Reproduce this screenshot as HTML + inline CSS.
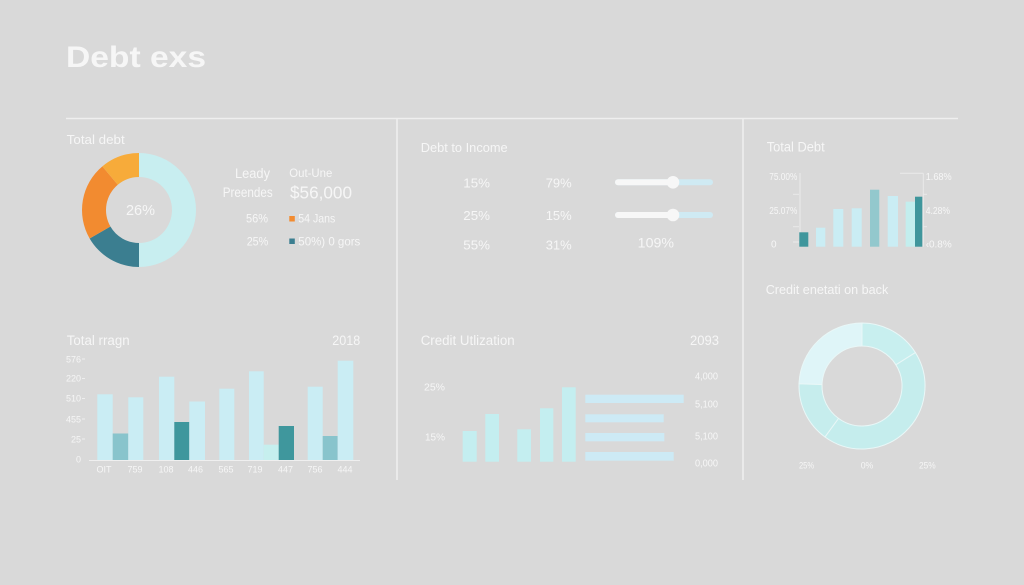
<!DOCTYPE html>
<html><head><meta charset="utf-8"><style>
html,body{margin:0;padding:0;background:#d9d9d9;}
svg{display:block;}
text{font-family:"Liberation Sans",sans-serif;fill:#f6f6f6;}
</style></head><body>
<svg width="1024" height="585" viewBox="0 0 1024 585" xmlns="http://www.w3.org/2000/svg">
<rect width="1024" height="585" fill="#d9d9d9"/>

<!-- Title -->
<text x="66" y="67" font-size="30" font-weight="bold" textLength="140" lengthAdjust="spacingAndGlyphs" fill="#f5f5f5">Debt exs</text>

<!-- grid lines -->
<line x1="66" y1="118.5" x2="958" y2="118.5" stroke="#efefef" stroke-width="1.5"/>
<line x1="397" y1="118" x2="397" y2="480" stroke="#efefef" stroke-width="1.5"/>
<line x1="743" y1="118" x2="743" y2="480" stroke="#efefef" stroke-width="1.5"/>

<!-- Panel 1: Total debt donut -->
<text x="66.7" y="144" font-size="13" textLength="58" lengthAdjust="spacingAndGlyphs">Total debt</text>
<path d="M139,153 A57,57 0 0 1 139,267 L139,243 A33,33 0 0 0 139,177 Z" fill="#c8eef0"/>
<path d="M139,267 A57,57 0 0 1 89.64,238.5 L110.42,226.5 A33,33 0 0 0 139,243 Z" fill="#3b7e90"/>
<path d="M89.64,238.5 A57,57 0 0 1 102.36,166.34 L117.79,184.72 A33,33 0 0 0 110.42,226.5 Z" fill="#f28b30"/>
<path d="M102.36,166.34 A57,57 0 0 1 139,153 L139,177 A33,33 0 0 0 117.79,184.72 Z" fill="#f7ab3a"/>
<text x="126" y="215" font-size="15" textLength="29" lengthAdjust="spacingAndGlyphs">26%</text>

<text x="235" y="178" font-size="13.5" textLength="35" lengthAdjust="spacingAndGlyphs">Leady</text>
<text x="222.7" y="197" font-size="13.5" textLength="50" lengthAdjust="spacingAndGlyphs">Preendes</text>
<text x="289.3" y="177" font-size="12" textLength="43" lengthAdjust="spacingAndGlyphs">Out-Une</text>
<text x="290" y="198.5" font-size="17.5" textLength="62" lengthAdjust="spacingAndGlyphs">$56,000</text>
<text x="246" y="222.5" font-size="12" textLength="22" lengthAdjust="spacingAndGlyphs">56%</text>
<rect x="289.3" y="216" width="5.5" height="5.5" fill="#f28b30"/>
<text x="298.3" y="222.5" font-size="12" textLength="37" lengthAdjust="spacingAndGlyphs">54 Jans</text>
<text x="246.7" y="245.5" font-size="12" textLength="21.6" lengthAdjust="spacingAndGlyphs">25%</text>
<rect x="289.3" y="238.5" width="5.5" height="5.5" fill="#3b7e90"/>
<text x="298.3" y="245.5" font-size="12" textLength="62" lengthAdjust="spacingAndGlyphs">50%) 0 gors</text>

<!-- Panel 3: Total rragn bars -->
<text x="66.7" y="345" font-size="13.5" textLength="63" lengthAdjust="spacingAndGlyphs">Total rragn</text>
<text x="332.3" y="345" font-size="13.5" textLength="28" lengthAdjust="spacingAndGlyphs">2018</text>
<g font-size="9" text-anchor="end">
<text x="81" y="362.5">576</text>
<text x="81" y="381.7">220</text>
<text x="81" y="401.7">510</text>
<text x="81" y="422.3">455</text>
<text x="81" y="442.3">25</text>
<text x="81" y="462.7">0</text>
</g>
<g stroke="#eeeeee" stroke-width="1">
<line x1="82" y1="359" x2="85" y2="359"/>
<line x1="82" y1="378.5" x2="85" y2="378.5"/>
<line x1="82" y1="398.5" x2="85" y2="398.5"/>
<line x1="82" y1="419" x2="85" y2="419"/>
<line x1="82" y1="439" x2="85" y2="439"/>
</g>
<rect x="97.3" y="394.3" width="15.4" height="65.7" fill="#caedf4"/>
<rect x="112.7" y="433.5" width="15.6" height="26.5" fill="#88c4cc"/>
<rect x="128.3" y="397.3" width="15" height="62.7" fill="#caedf4"/>
<rect x="159" y="376.7" width="15.3" height="83.3" fill="#caedf4"/>
<rect x="174.3" y="422" width="15" height="38" fill="#3f979d"/>
<rect x="189.3" y="401.5" width="15.7" height="58.5" fill="#caedf4"/>
<rect x="219.3" y="388.7" width="15" height="71.3" fill="#caedf4"/>
<rect x="249" y="371.3" width="14.7" height="88.7" fill="#caedf4"/>
<rect x="263.7" y="444.7" width="15" height="15.3" fill="#c6efee"/>
<rect x="278.7" y="426" width="15.3" height="34" fill="#3f979d"/>
<rect x="307.7" y="386.7" width="15" height="73.3" fill="#caedf4"/>
<rect x="322.7" y="436" width="15" height="24" fill="#88c4cc"/>
<rect x="337.7" y="360.7" width="15.6" height="99.3" fill="#caedf4"/>
<line x1="89" y1="460.5" x2="360" y2="460.5" stroke="#efefef" stroke-width="1"/>
<g font-size="9" text-anchor="middle">
<text x="104" y="472.7">OIT</text>
<text x="135" y="472.7">759</text>
<text x="166" y="472.7">108</text>
<text x="195.5" y="472.7">446</text>
<text x="226" y="472.7">565</text>
<text x="255" y="472.7">719</text>
<text x="285.5" y="472.7">447</text>
<text x="315" y="472.7">756</text>
<text x="345" y="472.7">444</text>
</g>

<!-- Panel 2: Debt to Income -->
<text x="420.7" y="152" font-size="13" textLength="87" lengthAdjust="spacingAndGlyphs">Debt to Income</text>
<g font-size="13">
<text x="463.3" y="187.7" textLength="26.7" lengthAdjust="spacingAndGlyphs">15%</text>
<text x="545.7" y="187.7" textLength="26" lengthAdjust="spacingAndGlyphs">79%</text>
<text x="463.3" y="220" textLength="26.7" lengthAdjust="spacingAndGlyphs">25%</text>
<text x="545.7" y="220" textLength="26" lengthAdjust="spacingAndGlyphs">15%</text>
<text x="463.3" y="249.3" textLength="26.7" lengthAdjust="spacingAndGlyphs">55%</text>
<text x="545.7" y="249.3" textLength="26" lengthAdjust="spacingAndGlyphs">31%</text>
</g>
<text x="637.7" y="247.7" font-size="14" textLength="36.3" lengthAdjust="spacingAndGlyphs">109%</text>
<rect x="615" y="179.3" width="98" height="6" rx="3" fill="#cfeaf3"/>
<rect x="615" y="179.3" width="58" height="6" rx="3" fill="#f7f7f7"/>
<circle cx="673" cy="182.3" r="6.3" fill="#f7f7f7"/>
<rect x="615" y="212" width="98" height="6" rx="3" fill="#cfeaf3"/>
<rect x="615" y="212" width="58" height="6" rx="3" fill="#f7f7f7"/>
<circle cx="673" cy="215" r="6.3" fill="#f7f7f7"/>

<!-- Panel 4: Credit Utilization -->
<text x="420.7" y="345" font-size="13.5" textLength="94" lengthAdjust="spacingAndGlyphs">Credit Utlization</text>
<text x="690" y="345" font-size="13.5" textLength="29" lengthAdjust="spacingAndGlyphs">2093</text>
<text x="424" y="390.7" font-size="10" textLength="21" lengthAdjust="spacingAndGlyphs">25%</text>
<text x="425" y="440.7" font-size="10" textLength="20" lengthAdjust="spacingAndGlyphs">15%</text>
<g fill="#c4eef0">
<rect x="462.7" y="431" width="14" height="30.7"/>
<rect x="485.3" y="414" width="13.7" height="47.7"/>
<rect x="517.3" y="429.3" width="13.7" height="32.4"/>
<rect x="540" y="408.3" width="13.3" height="53.4"/>
<rect x="562" y="387.3" width="13.7" height="74.4"/>
</g>
<g fill="#cdeaf5">
<rect x="585.3" y="394.7" width="98.4" height="8.3"/>
<rect x="585.3" y="414.3" width="78.4" height="8"/>
<rect x="585.3" y="433" width="79" height="8.3"/>
<rect x="585.3" y="452" width="88.4" height="8.7"/>
</g>
<g font-size="10">
<text x="695" y="379.3" textLength="23" lengthAdjust="spacingAndGlyphs">4,000</text>
<text x="695" y="407.3" textLength="23" lengthAdjust="spacingAndGlyphs">5,100</text>
<text x="695" y="439.3" textLength="23" lengthAdjust="spacingAndGlyphs">5,100</text>
<text x="695" y="466.7" textLength="23" lengthAdjust="spacingAndGlyphs">0,000</text>
</g>

<!-- Panel 5: Total Debt -->
<text x="766.7" y="151.7" font-size="13.5" textLength="58" lengthAdjust="spacingAndGlyphs">Total Debt</text>
<g font-size="10">
<text x="769.3" y="180" textLength="28" lengthAdjust="spacingAndGlyphs">75.00%</text>
<text x="769.3" y="214" textLength="28" lengthAdjust="spacingAndGlyphs">25.07%</text>
<text x="771" y="247.7">0</text>
<text x="925.7" y="180" textLength="26" lengthAdjust="spacingAndGlyphs">1.68%</text>
<text x="925.7" y="214" textLength="24.3" lengthAdjust="spacingAndGlyphs">4.28%</text>
<text x="925.7" y="247.7" textLength="26" lengthAdjust="spacingAndGlyphs">‹0.8%</text>
</g>
<g stroke="#eaeaea" stroke-width="1">
<line x1="800" y1="173" x2="800" y2="246.7"/>
<line x1="793" y1="194.3" x2="799" y2="194.3"/>
<line x1="793" y1="226.7" x2="799" y2="226.7"/>
<line x1="793" y1="242" x2="799" y2="242"/>
<line x1="923.3" y1="173.3" x2="923.3" y2="246.7"/>
<line x1="900" y1="173.3" x2="923.3" y2="173.3"/>
<line x1="923.3" y1="194.3" x2="927" y2="194.3"/>
<line x1="923.3" y1="226.7" x2="927" y2="226.7"/>
</g>
<rect x="799.3" y="232.3" width="9" height="14.4" fill="#3f969c"/>
<rect x="816" y="227.7" width="9.3" height="19" fill="#caedf4"/>
<rect x="833.3" y="209" width="10" height="37.7" fill="#caedf4"/>
<rect x="851.7" y="208.3" width="10" height="38.4" fill="#caedf4"/>
<rect x="870" y="189.7" width="9.3" height="57" fill="#93c8cd"/>
<rect x="887.7" y="196" width="10.3" height="50.7" fill="#caedf4"/>
<rect x="905.7" y="201.7" width="9.3" height="45" fill="#c3eeee"/>
<rect x="915" y="196.7" width="7.3" height="50" fill="#3f969c"/>

<!-- Panel 6: Credit donut -->
<text x="765.7" y="294" font-size="13" textLength="122.6" lengthAdjust="spacingAndGlyphs">Credit enetati on back</text>
<g stroke="#e9f7f7" stroke-width="1">
<path d="M799.04,383.8 A63,63 0 0 1 862,323 L862,346 A40,40 0 0 0 822.02,384.6 Z" fill="#dff5f8"/>
<path d="M862,323 A63,63 0 0 1 915.43,352.61 L895.92,364.8 A40,40 0 0 0 862,346 Z" fill="#c8efef"/>
<path d="M915.43,352.61 A63,63 0 0 1 824.97,436.97 L838.49,418.36 A40,40 0 0 0 895.92,364.8 Z" fill="#c5eded"/>
<path d="M824.97,436.97 A63,63 0 0 1 799.04,383.8 L822.02,384.6 A40,40 0 0 0 838.49,418.36 Z" fill="#c6eded"/>
</g>
<g font-size="9">
<text x="799" y="468.5" textLength="15" lengthAdjust="spacingAndGlyphs">25%</text>
<text x="860.7" y="468.5" textLength="12.6" lengthAdjust="spacingAndGlyphs">0%</text>
<text x="919" y="468.5" textLength="16.7" lengthAdjust="spacingAndGlyphs">25%</text>
</g>
</svg>
</body></html>
